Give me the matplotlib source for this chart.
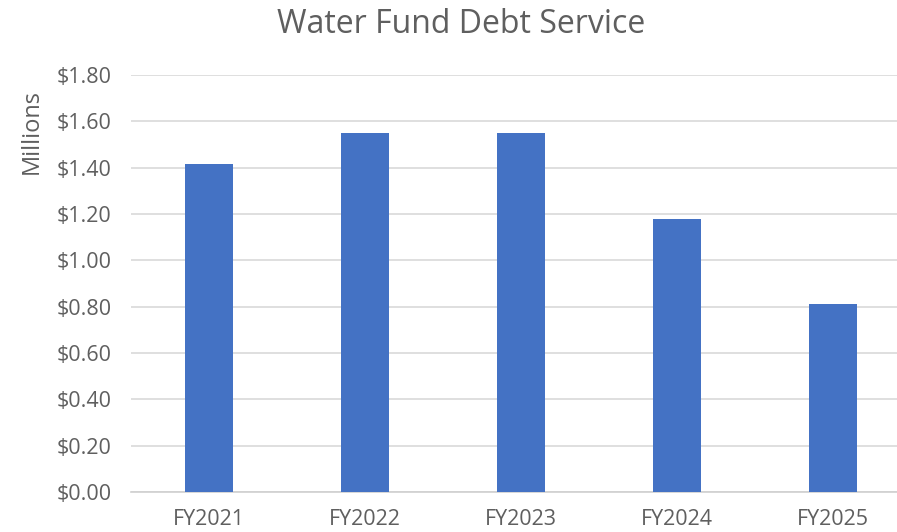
import matplotlib
matplotlib.use("Agg")
import matplotlib.pyplot as plt

categories = ["FY2021", "FY2022", "FY2023", "FY2024", "FY2025"]
values = [1.415, 1.55, 1.55, 1.177, 0.81]
yticks = [0.0, 0.2, 0.4, 0.6, 0.8, 1.0, 1.2, 1.4, 1.6, 1.8]

plt.rcParams['font.family'] = ['Open Sans', 'DejaVu Sans']
text_color = "#5f5f5f"

fig = plt.figure(figsize=(8.97, 5.32), dpi=100)
ax = fig.add_axes([131 / 897, 1 - 492 / 532, 780 / 897, (492 - 75) / 532])
x = range(len(categories))
ax.bar(x, values, width=0.31, color="#4472C4", zorder=3)
ax.set_xlim(-0.5, len(categories) - 0.5)
ax.set_ylim(0, 1.8)
ax.set_yticks(yticks)
ax.set_yticklabels([f"${v:.2f}" for v in yticks], color=text_color, fontsize=15.5)
ax.set_xticks(list(x))
ax.set_xticklabels(categories, color=text_color, fontsize=15.5)
ax.tick_params(axis='both', length=0)
ax.tick_params(axis='y', pad=14)
ax.tick_params(axis='x', pad=12)
ax.grid(axis='y', color="#d9d9d9", linewidth=1.2, zorder=0)
for s in ["top", "right", "left"]:
    ax.spines[s].set_visible(False)
ax.spines["bottom"].set_color("#d0d0d0")
ax.spines["bottom"].set_linewidth(1.2)
fig.text(31.5 / 897, 1 - 131 / 532, "Millions", rotation=90, ha="center", va="center",
         color=text_color, fontsize=17)
fig.text(461.5 / 897, 1 - 33 / 532, "Water Fund Debt Service", ha="center", va="baseline",
         fontsize=23, color=text_color)
fig.savefig("out.png", dpi=100)
